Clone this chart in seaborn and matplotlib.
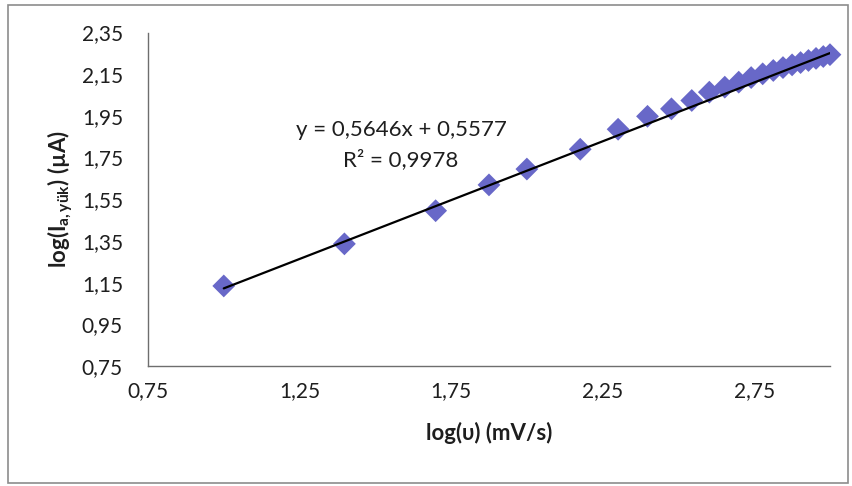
"""Log-log plot of anodic peak current vs scan rate with linear trendline."""

import matplotlib

matplotlib.use("Agg")
import matplotlib.pyplot as plt
import numpy as np
import pandas as pd
import seaborn as sns
from matplotlib.patches import Rectangle
from matplotlib.ticker import FuncFormatter


# data
LOG_SCAN_RATE = [1.000, 1.398, 1.699, 1.875, 2.000, 2.176, 2.301, 2.398, 2.477,
                 2.544, 2.602, 2.653, 2.699, 2.740, 2.778, 2.813, 2.845, 2.875,
                 2.903, 2.929, 2.954, 2.978, 3.000]
LOG_PEAK_CURRENT = [1.134, 1.336, 1.495, 1.619, 1.695, 1.790, 1.886, 1.948, 1.984,
                    2.024, 2.064, 2.088, 2.112, 2.134, 2.152, 2.168, 2.182, 2.195,
                    2.206, 2.216, 2.226, 2.235, 2.244]
TREND_SLOPE = 0.5646
TREND_INTERCEPT = 0.5577
EQUATION_TEXT = "y = 0,5646x + 0,5577"
R2_TEXT = "R² = 0,9978"
X_TICKS = [0.75, 1.25, 1.75, 2.25, 2.75]
Y_TICKS = [0.75, 0.95, 1.15, 1.35, 1.55, 1.75, 1.95, 2.15, 2.35]
X_LABEL = "log(υ) (mV/s)"
Y_LABEL = "log(I$_{\\mathbf{a,yük}}$) (µA)"

MARKER_COLOR = "#6868C8"
AXIS_COLOR = "#6e6e6e"
TEXT_COLOR = "#1e1e1e"

sns.set_theme(style="white")
plt.rcParams["font.family"] = ["Lato", "DejaVu Sans"]
plt.rcParams["mathtext.fontset"] = "custom"
plt.rcParams["mathtext.rm"] = "Lato"
plt.rcParams["mathtext.bf"] = "Lato:bold"
plt.rcParams["mathtext.it"] = "Lato:italic"

df = pd.DataFrame({"log_v": LOG_SCAN_RATE, "log_i": LOG_PEAK_CURRENT})

# trendline from the fitted equation shown on the chart
x_range = np.array([min(LOG_SCAN_RATE), max(LOG_SCAN_RATE)])
trend = pd.DataFrame({"log_v": x_range, "log_i": TREND_SLOPE * x_range + TREND_INTERCEPT})

fig = plt.figure(figsize=(8.53, 4.86), dpi=100)
fig.patches.append(Rectangle((0.009, 0.006), 0.985, 0.984, transform=fig.transFigure,
                             fill=False, edgecolor="#8c8c8c", linewidth=1.2))
ax = fig.add_axes([0.1735, 0.247, 0.7995, 0.686])

sns.scatterplot(data=df, x="log_v", y="log_i", marker="D", s=135, color=MARKER_COLOR,
                edgecolor="none", ax=ax, zorder=2, clip_on=False)
sns.lineplot(data=trend, x="log_v", y="log_i", color="black", linewidth=1.6, ax=ax,
             zorder=3)

ax.set_xlim(0.75, 3.0)
ax.set_ylim(0.75, 2.35)
ax.set_xticks(X_TICKS)
ax.set_yticks(Y_TICKS)
comma_fmt = FuncFormatter(lambda v, _: f"{v:.2f}".replace(".", ","))
ax.xaxis.set_major_formatter(comma_fmt)
ax.yaxis.set_major_formatter(comma_fmt)
ax.tick_params(axis="both", direction="out", length=5, width=1, color=AXIS_COLOR,
               labelsize=15, labelcolor=TEXT_COLOR)
ax.tick_params(axis="x", pad=6)
ax.tick_params(axis="y", pad=13)

for side in ["top", "right"]:
    ax.spines[side].set_visible(False)
for side in ["left", "bottom"]:
    ax.spines[side].set_color(AXIS_COLOR)
    ax.spines[side].set_linewidth(1.0)

ax.set_xlabel(X_LABEL, fontsize=16, fontweight="bold", color=TEXT_COLOR, labelpad=15)
ax.set_ylabel(Y_LABEL, fontsize=16, fontweight="bold", color=TEXT_COLOR, labelpad=5)

ax.text(1.585, 1.882, EQUATION_TEXT, fontsize=16, ha="center", va="center", color=TEXT_COLOR)
ax.text(1.585, 1.738, R2_TEXT, fontsize=16, ha="center", va="center", color=TEXT_COLOR)

fig.savefig("out.png", dpi=100, facecolor="white")
